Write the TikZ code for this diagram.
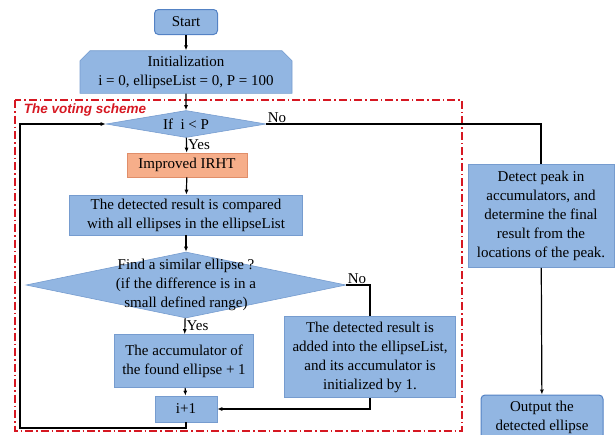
\documentclass[tikz,border=0pt]{standalone}
\usepackage{fontspec}
\setmainfont{Liberation Serif}
\newfontfamily\schemefont{Liberation Sans}
\usepackage{xcolor}
\usepackage{tikz}
\usetikzlibrary{arrows.meta,calc,positioning,shapes.geometric,shapes.misc}

\definecolor{boxblue}{RGB}{146,182,226}
\definecolor{boxedge}{RGB}{118,156,207}
\definecolor{termedge}{RGB}{84,130,196}
\definecolor{boxorange}{RGB}{246,174,138}
\definecolor{orangeedge}{RGB}{224,142,106}
\definecolor{schemered}{RGB}{214,24,34}

\begin{document}
\begin{tikzpicture}[x=1pt,y=-1pt,line width=1.2pt,
    font=\fontsize{15}{19}\selectfont,
    flowbox/.style={rectangle,fill=boxblue,draw=boxedge,line width=0.6pt,align=center,inner sep=0pt},
    termbox/.style={flowbox,draw=termedge,line width=1pt,rounded corners=4pt},
    initbox/.style={flowbox,chamfered rectangle,chamfered rectangle corners={north west,north east},
      chamfered rectangle xsep=5pt,chamfered rectangle ysep=5pt},
    irhtbox/.style={flowbox,fill=boxorange,draw=orangeedge},
    decision/.style={diamond,fill=boxblue,draw=boxedge,line width=0.6pt,inner sep=0pt,aspect=6},
    branch/.style={inner sep=1pt},
    flowarrow/.style={-{Latex[length=5pt,width=4pt]}}]
  \useasboundingbox (0,0) rectangle (615,434);

  % voting scheme frame
  \draw[schemered,line width=1.4pt,dash pattern=on 8pt off 3pt on 1.5pt off 3pt] (15,100) rectangle (462,431);
  \node[anchor=west,text=schemered,font=\schemefont\fontsize{13.5}{16}\selectfont\bfseries\itshape] (schemelabel) at (20,110) {The voting scheme};

  \node[termbox,minimum width=63pt,minimum height=25pt] (start) at (186,22) {Start};
  \node[initbox,minimum width=212pt,minimum height=40pt] (init) at (186,72) {Initialization\\i = 0, ellipseList = 0, P = 100};
  \node[decision,minimum width=160pt,minimum height=27pt] (cond1) at (186,124) {If~~i < P};
  \node[irhtbox,minimum width=120pt,minimum height=24pt] (irht) at (187,165) {Improved IRHT};
  \node[flowbox,minimum width=233pt,minimum height=40pt] (compare) at (186,215) {The detected result is compared\\with all ellipses in the ellipseList};
  \node[decision,minimum width=320pt,minimum height=66pt] (cond2) at (186,285) {};
  \node[align=center,inner sep=0pt] (cond2text) at (cond2.center) {Find a similar ellipse ?\\(if the difference is in a\\small defined range)};
  \node[flowbox,minimum width=139pt,minimum height=53pt] (acc) at (184,361) {The accumulator of\\the found ellipse + 1};
  \node[flowbox,minimum width=62pt,minimum height=26pt] (incr) at (186,409) {i+1};
  \node[flowbox,minimum width=171pt,minimum height=81pt] (added) at (370,357) {The detected result is\\added into the ellipseList,\\and its accumulator is\\initialized by 1.};
  \node[flowbox,minimum width=146pt,minimum height=103pt] (peak) at (541,216) {Detect peak in\\accumulators, and\\determine the final\\result from the\\locations of the peak.};
  \node[termbox,minimum width=122pt,minimum height=44pt] (output) at (542,417) {Output the\\detected ellipse};
  \coordinate (loopbot) at (20,428);

  \draw[flowarrow] (start) -- (init);
  \draw[flowarrow] (init) -- (cond1);
  \draw[flowarrow] (cond1) -- node[branch,right,pos=0.45] {Yes} (irht);
  \draw[flowarrow] (irht) -- (compare);
  \draw[flowarrow] (compare) -- (cond2);
  \draw[flowarrow] (cond2) -- node[branch,right,pos=0.45] {Yes} (acc);
  \draw[flowarrow] (acc) -- (incr);
  \draw (cond1.east) node[branch,above right] {No} -- (cond1.east -| peak.north) -- (peak.north);
  \draw (cond2.east) node[branch,above right] {No} -| (added.north);
  \draw[flowarrow] (added.south) |- (incr.east);
  \draw[flowarrow] (incr.south) |- (loopbot) |- (cond1.west);
  \draw[flowarrow] (peak) -- (output);
\end{tikzpicture}
\end{document}
